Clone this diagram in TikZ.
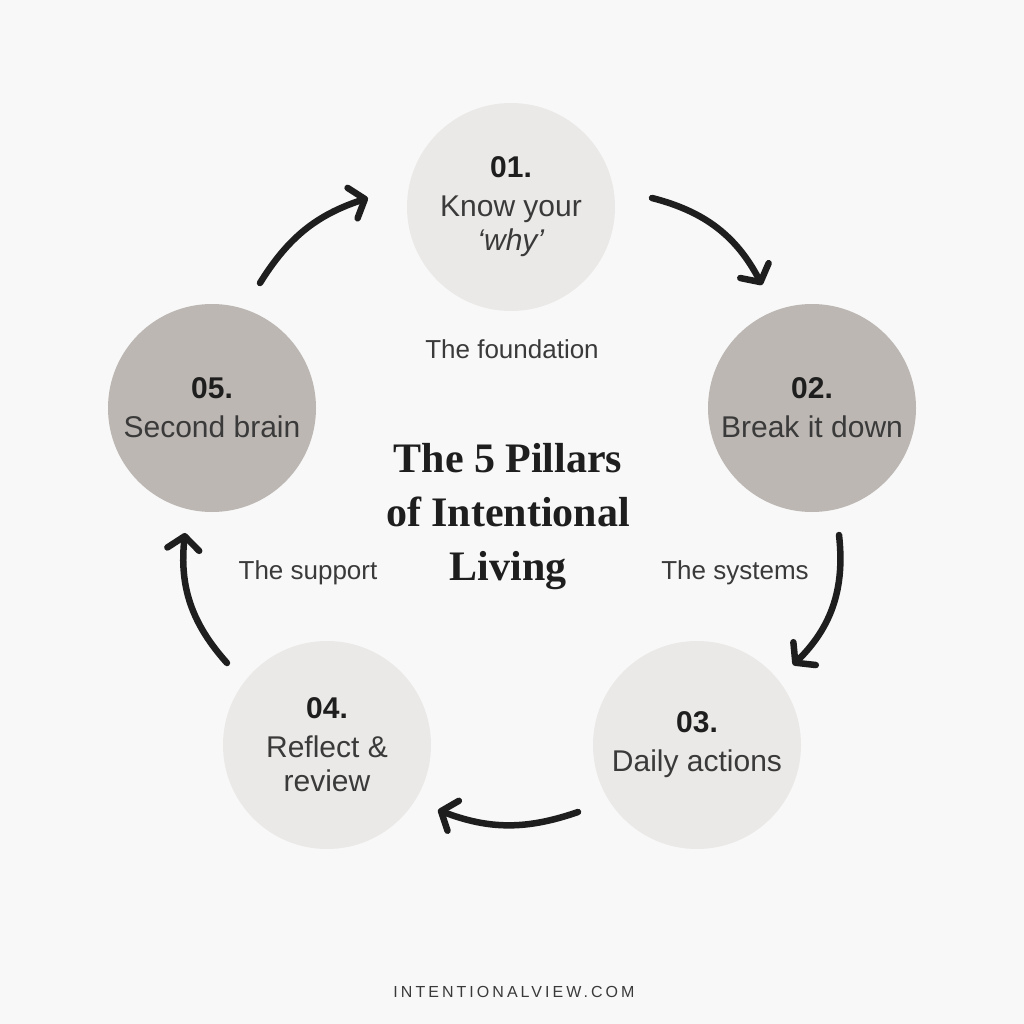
\documentclass[tikz,border=0pt]{standalone}
\usepackage{fontspec}
\setmainfont{Liberation Sans}
\newfontfamily\titlefont{Liberation Serif}
\newfontfamily\sitefont[LetterSpace=19]{Liberation Sans}
\usetikzlibrary{arrows.meta}
\definecolor{bgc}{HTML}{F8F8F8}
\definecolor{lightc}{HTML}{EBE9E7}
\definecolor{darkc}{HTML}{BCB7B3}
\definecolor{inkc}{HTML}{1E1E1E}
\definecolor{txtc}{HTML}{3A3A3A}
\newcommand{\pnum}[1]{{\bfseries\color{inkc}#1}}

\begin{document}
\begin{tikzpicture}[x=1pt,y=-1pt,
  pillar/.style={circle,minimum size=208pt,inner sep=0pt,fill=lightc,text=txtc,
    align=center,font=\fontsize{30}{39}\selectfont},
  pillardark/.style={pillar,fill=darkc},
  tag/.style={anchor=base,text=txtc,font=\fontsize{26}{30}\selectfont},
  flow/.style={line width=6.5pt,draw=inkc,line cap=round,
    -{Straight Barb[length=13pt,width=32pt,round]}}]
\useasboundingbox[fill=bgc] (0,0) rectangle (1024,1024);
% the five pillars
\node[pillar] (p1) at (511,207) {\pnum{01.}\\Know your\\[-5pt]\textit{‘why’}};
\node[pillardark] (p2) at (812,408) {\pnum{02.}\\Break it down};
\node[pillar] (p3) at (697,745) {\pnum{03.}\\Daily actions};
\node[pillar] (p4) at (327,745) {\pnum{04.}\\Reflect \&\\[-5pt]review};
\node[pillardark] (p5) at (212,408) {\pnum{05.}\\Second brain};
% captions between the pillars
\node[tag] (t1) at (512,358) {The foundation};
\node[tag] (t2) at (735,579) {The systems};
\node[tag] (t5) at (308,579) {The support};
% title in the middle
\node[font=\titlefont\bfseries\fontsize{42}{54}\selectfont,align=center,text=inkc]
  (title) at (508,517) {The 5 Pillars\\of Intentional\\Living};
% site name
\node[font=\sitefont\fontsize{16}{18}\selectfont,text=txtc,anchor=base]
  (site) at (514,997) {INTENTIONALVIEW.COM};
% arrow ends
\coordinate (a1s) at (652,198); \coordinate (a1e) at (762,285);
\coordinate (a2s) at (839,535); \coordinate (a2e) at (793,665);
\coordinate (a3s) at (578,812); \coordinate (a3e) at (438,810);
\coordinate (a4s) at (227,663); \coordinate (a4e) at (185,533);
\coordinate (a5s) at (260,283); \coordinate (a5e) at (368,198);
% arrows round the cycle
\draw[flow] (a1s) to[bend left=24] (a1e);
\draw[flow] (a2s) to[bend left=26] (a2e);
\draw[flow] (a3s) to[bend left=20] (a3e);
\draw[flow] (a4s) to[bend left=24] (a4e);
\draw[flow] (a5s) to[bend left=20] (a5e);
\end{tikzpicture}
\end{document}
